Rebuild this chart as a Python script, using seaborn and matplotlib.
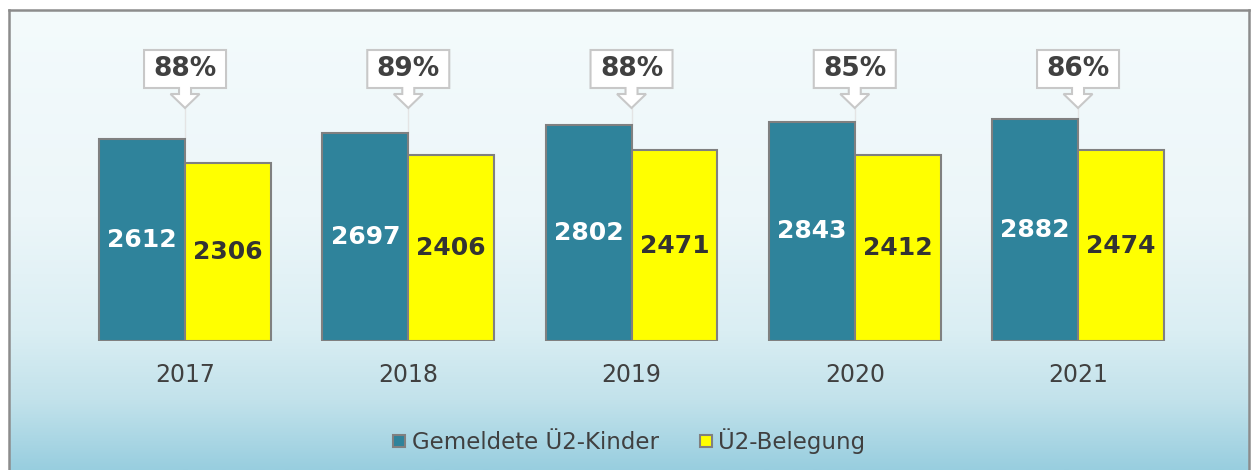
import numpy as np
import pandas as pd
import seaborn as sns
import matplotlib.pyplot as plt
import matplotlib.transforms as mtransforms
from matplotlib.colors import LinearSegmentedColormap
from matplotlib.lines import Line2D
from matplotlib.patches import Polygon

# chart data
years = ['2017', '2018', '2019', '2020', '2021']
gemeldete = [2612, 2697, 2802, 2843, 2882]
belegung = [2306, 2406, 2471, 2412, 2474]
series_names = ['Gemeldete Ü2-Kinder', 'Ü2-Belegung']
colors = ['#2F839B', '#FFFF00']
label_colors = ['white', '#333333']

df = pd.DataFrame({
    'year': years * 2,
    'value': gemeldete + belegung,
    'series': [series_names[0]] * len(years) + [series_names[1]] * len(years),
})
quota = [round(100 * b / g) for g, b in zip(gemeldete, belegung)]

sns.set_theme(style='white')
plt.rcParams['font.family'] = ['DejaVu Sans']

W, H = 1252, 470
fig = plt.figure(figsize=(W / 100, H / 100), dpi=100)

# panel with gradient background
bg = fig.add_axes([9 / W, 0, (1249 - 9) / W, (H - 10) / H])
cmap = LinearSegmentedColormap.from_list(
    'bg', [(0, '#F4FBFC'), (0.45, '#ECF6F9'), (0.7, '#DAEEF3'),
           (0.85, '#C2E2EB'), (1, '#98CEDF')])
grad = np.linspace(0, 1, 256).reshape(-1, 1)
bg.imshow(grad, aspect='auto', cmap=cmap, extent=[0, 1, 0, 1], origin='upper')
bg.set_xticks([])
bg.set_yticks([])
for s in bg.spines.values():
    s.set_color('#8C8C8C')
    s.set_linewidth(1.8)
bg.spines['bottom'].set_visible(False)

# main axes: zero line at y=341 px
ax_left = (185 - 111.6) / W
ax_w = 223.25 * 5 / W
ax = fig.add_axes([ax_left, (H - 341) / H, ax_w, (341 - 20) / H])
ax.patch.set_alpha(0)
ymax = 4160

sns.barplot(data=df, x='year', y='value', hue='series', palette=colors,
            width=0.77, gap=0, edgecolor='#808080', linewidth=1.5,
            saturation=1, legend=False, ax=ax)

ax.set_ylim(0, ymax)
ax.set_xlim(-0.5, len(years) - 0.5)
ax.set_xlabel('')
ax.set_ylabel('')
ax.set_yticks([])
for s in ax.spines.values():
    s.set_visible(False)
ax.tick_params(axis='x', length=0, pad=16, labelsize=17, labelcolor='#404040')

# value labels inside bars
for k, cont in enumerate(ax.containers):
    for bar in cont:
        h = bar.get_height()
        ax.text(bar.get_x() + bar.get_width() / 2, h / 2, f'{int(h)}',
                ha='center', va='center', fontsize=18, fontweight='bold',
                color=label_colors[k])

# percentage callouts
tip_frac = (341 - 108) / 321
blend = mtransforms.blended_transform_factory(ax.transData, ax.transAxes)
shape = np.array([(0, 0), (14.5, 14), (6, 14), (6, 20), (41, 20), (41, 58),
                  (-41, 58), (-41, 20), (-6, 20), (-6, 14), (-14.5, 14)]) / 100
for i, q in enumerate(quota):
    trans = fig.dpi_scale_trans + mtransforms.ScaledTranslation(i, tip_frac, blend)
    ax.add_patch(Polygon(shape, closed=True, transform=trans, facecolor='white',
                         edgecolor='#C8C8C8', linewidth=1.5, clip_on=False, zorder=5))
    ax.text(0, 0.39, f'{q}%', transform=trans, ha='center', va='center',
            fontsize=19, fontweight='bold', color='#404040', zorder=6)
    top = max(gemeldete[i], belegung[i])
    ax.plot([i, i], [top, tip_frac * ymax], color='#E4E4E4', lw=1, zorder=0.5)

# legend
handles = [Line2D([], [], marker='s', linestyle='', markersize=8.5,
                  markerfacecolor=c, markeredgecolor='#808080', markeredgewidth=1.5)
           for c in colors]
leg = fig.legend(handles, series_names, loc='center', ncol=2,
                 bbox_to_anchor=(627 / W, 1 - 441 / H), frameon=False,
                 fontsize=16.5, handletextpad=0.1, columnspacing=1.6,
                 handlelength=0.9)
for t in leg.get_texts():
    t.set_color('#404040')

fig.savefig('out.png', dpi=100)
